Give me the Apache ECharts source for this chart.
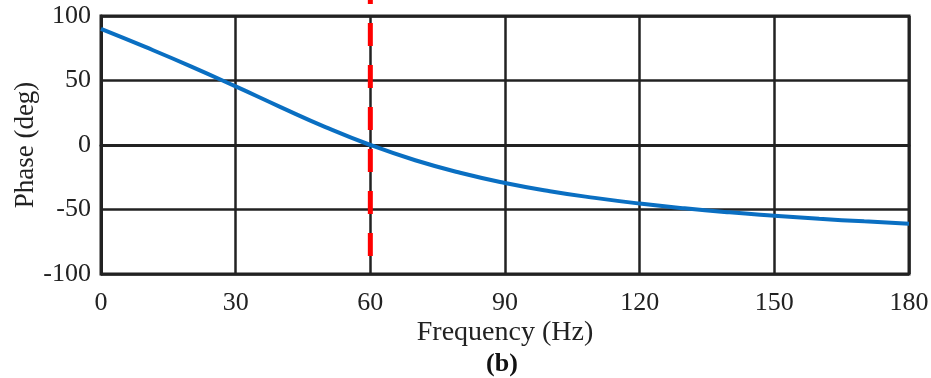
<!DOCTYPE html>
<html>
<head>
<meta charset="utf-8">
<script src="https://cdn.jsdelivr.net/npm/echarts@6/dist/echarts.min.js"></script>
<style>html,body{margin:0;padding:0;background:#fff;}#c{width:931px;height:378px;}</style>
</head>
<body>
<div id="c"></div>
<script>
// Data
var freq = [0, 10, 20, 30, 40, 50, 60, 70, 80, 90, 100, 110, 120, 130, 140, 150, 160, 170, 180];
var phase = [90, 75.8, 61.0, 45.4, 29.4, 13.9, 0, -11.8, -21.5, -29.4, -35.8, -41.0, -45.4, -49.1, -52.2, -54.8, -57.2, -59.2, -61.0];
var markerFreq = 60;
var markerSpan = [-86, 112.5];
var xTicks = [0, 30, 60, 90, 120, 150, 180];
var yTicks = [-100, -50, 0, 50, 100];
var xName = 'Frequency (Hz)';
var yName = 'Phase (deg)';
var caption = '(b)';

var font = '"Liberation Serif", "DejaVu Serif", serif';
var chart = echarts.init(document.getElementById('c'), null, {renderer: 'canvas'});
chart.setOption({
  animation: false,
  backgroundColor: '#fff',
  grid: {left: 101, right: 22, top: 16, bottom: 104, containLabel: false, outerBoundsMode: 'none',
         show: true, borderColor: '#222', borderWidth: 3, backgroundColor: 'transparent'},
  xAxis: {
    type: 'value', min: xTicks[0], max: xTicks[xTicks.length - 1], interval: 30,
    name: xName, nameLocation: 'middle', nameGap: 45, nameMoveOverlap: false,
    nameTextStyle: {fontFamily: font, fontSize: 28, color: '#222'},
    axisLine: {show: true, lineStyle: {color: '#222', width: 3}},
    axisTick: {show: false},
    axisLabel: {fontFamily: font, fontSize: 26, color: '#222', margin: 16},
    splitLine: {show: true, lineStyle: {color: '#222', width: 2.5}}
  },
  yAxis: {
    type: 'value', min: yTicks[0], max: yTicks[yTicks.length - 1], interval: 50,
    name: yName, nameLocation: 'middle', nameGap: 62, nameRotate: 90, nameMoveOverlap: false,
    nameTextStyle: {fontFamily: font, fontSize: 27, color: '#222'},
    axisLine: {show: true, lineStyle: {color: '#222', width: 3}},
    axisTick: {show: false},
    axisLabel: {fontFamily: font, fontSize: 26, color: '#222', margin: 10},
    splitLine: {show: true, lineStyle: {color: '#222', width: 2.5}}
  },
  series: [
    {
      type: 'line', smooth: true, showSymbol: false, z: 3,
      data: freq.map(function (f, i) { return [f, phase[i]]; }),
      lineStyle: {color: '#0a6fc2', width: 4}
    },
    {
      type: 'line', showSymbol: false, clip: false, z: 4,
      data: [[markerFreq, markerSpan[0]], [markerFreq, markerSpan[1]]],
      lineStyle: {color: '#ff0000', width: 5, type: [23, 19]}
    }
  ],
  graphic: [{
    type: 'text', x: 502, y: 364,
    style: {text: caption, font: 'bold 26px ' + font, fill: '#111', textAlign: 'center', textVerticalAlign: 'middle'}
  }]
});
</script>
</body>
</html>
